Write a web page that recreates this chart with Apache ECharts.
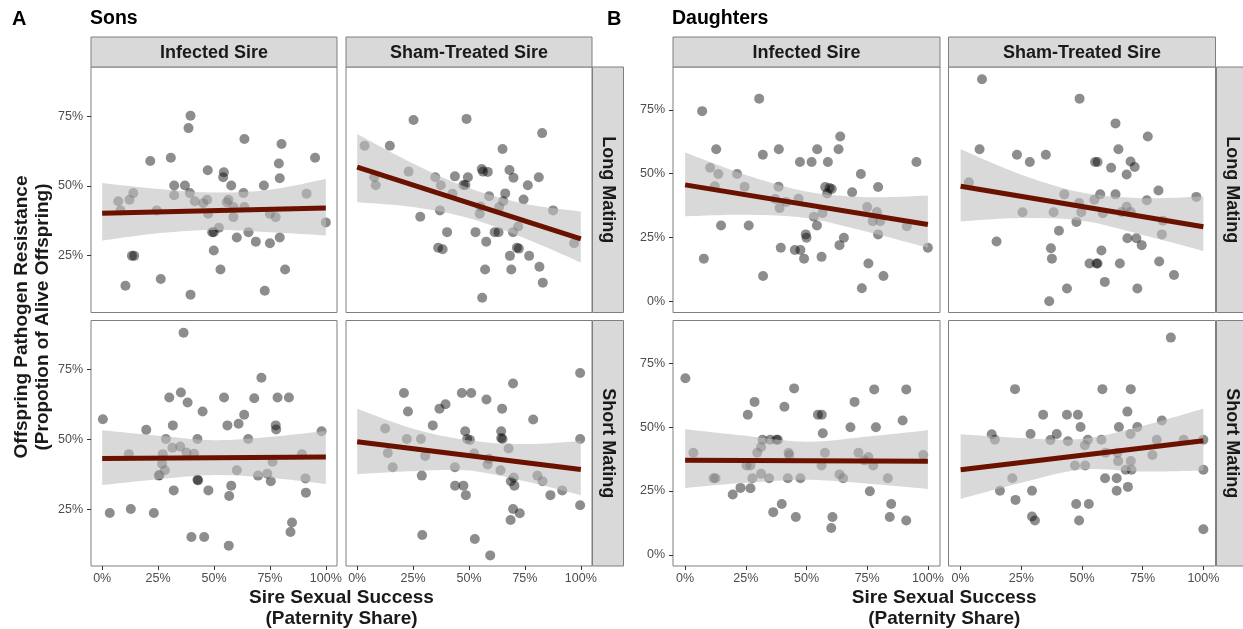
<!DOCTYPE html>
<html>
<head>
<meta charset="utf-8">
<script src="https://cdn.jsdelivr.net/npm/echarts@6/dist/echarts.min.js"></script>
<style>
html,body{margin:0;padding:0;background:#fff;}
#chart{width:1243px;height:629px;}
</style>
</head>
<body>
<div id="chart"></div>
<script>
// ---- Tick values (percent) ----
const xTicks = [0, 25, 50, 75, 100];
const sonsYTicks = [25, 50, 75];
const daughtersYTicks = [0, 25, 50, 75];

// ---- Facet labels ----
const groupTitles = ['Sons', 'Daughters'];
const groupLetters = ['A', 'B'];
const sireLabels = ['Infected Sire', 'Sham-Treated Sire'];
const matingLabels = ['Long Mating', 'Short Mating'];

// ---- Observations: [paternity share %, resistance %] ----
const sonsInfLong = [[39.5,75.1],[38.6,70.7],[63.6,66.8],[80.2,65.0],[21.5,58.9],[30.7,60.1],[95.2,60.1],[79.0,58.0],[47.2,55.6],[54.4,54.9],[54.1,53.1],[79.4,52.7],[32.2,50.1],[37.0,50.1],[57.7,50.1],[72.3,50.1],[13.9,47.4],[32.2,46.6],[39.2,47.4],[63.2,47.4],[91.4,47.2],[7.2,44.5],[12.2,45.0],[41.4,44.5],[46.9,45.0],[56.5,45.0],[45.2,43.8],[55.7,44.1],[8.2,41.2],[24.4,41.2],[58.7,42.4],[63.6,42.4],[47.4,40.0],[58.7,38.8],[75.0,40.0],[77.6,38.8],[100,36.9],[52.2,35.0],[49.2,33.4],[49.9,33.4],[65.4,33.4],[60.2,31.5],[68.7,30.0],[75.0,29.4],[79.4,31.5],[49.9,26.8],[13.3,24.9],[14.3,24.9],[52.9,20.0],[81.8,20.0],[26.2,16.6],[10.4,14.2],[39.5,11.0],[72.7,12.4]];
const sonsShamLong = [[25.2,73.6],[48.9,74.0],[82.7,68.9],[3.3,64.4],[14.6,64.4],[65.0,63.2],[23.0,55.1],[55.7,56.0],[56.3,55.1],[58.4,55.0],[68.1,55.7],[69.9,52.9],[7.6,53.1],[8.3,50.2],[34.9,53.1],[37.4,50.2],[43.7,53.4],[49.5,53.1],[47.5,50.3],[48.4,50.3],[81.2,53.1],[76.3,50.2],[42.6,47.2],[59.0,46.3],[66.2,47.3],[65.3,44.5],[74.4,45.1],[55.1,42.6],[63.5,42.4],[87.6,41.2],[37.0,41.2],[54.8,40.0],[28.2,38.9],[72.0,35.4],[40.2,33.4],[52.9,33.4],[61.5,33.4],[63.2,33.4],[69.7,33.4],[57.7,30.0],[36.2,27.8],[38.2,27.3],[71.4,27.8],[72.3,27.5],[97.0,29.4],[68.3,24.9],[76.9,24.9],[81.5,21.0],[57.2,20.0],[68.9,20.0],[83.0,15.3],[55.9,9.9]];
const sonsInfShort = [[36.4,88.2],[71.2,72.1],[35.2,66.8],[30.0,65.0],[38.2,63.2],[54.5,65.0],[68.0,64.7],[78.4,65.0],[83.5,65.0],[44.9,60.0],[63.5,58.8],[0.3,57.2],[31.6,55.0],[56.0,55.0],[61.0,55.6],[77.6,55.0],[77.8,53.5],[19.7,53.4],[98.1,52.9],[28.5,50.1],[42.6,50.1],[65.3,50.1],[31.4,47.0],[34.9,47.4],[37.7,45.3],[41.1,44.8],[11.9,44.7],[27.1,44.7],[26.8,41.2],[89.3,44.7],[76.2,42.0],[28.0,38.9],[60.2,38.9],[25.3,37.0],[25.6,37.2],[69.7,37.0],[73.8,37.7],[42.6,35.5],[42.9,35.3],[75.4,35.0],[90.9,36.0],[57.7,33.4],[56.8,29.7],[32.0,31.7],[47.5,31.7],[91.1,30.9],[3.4,23.6],[12.8,25.0],[23.1,23.6],[84.9,20.2],[84.2,16.8],[39.9,15.0],[45.6,15.0],[56.6,11.9]];
const sonsShamShort = [[99.7,73.8],[69.7,70.0],[20.9,66.6],[46.8,66.6],[51.0,66.6],[57.8,64.3],[39.5,62.6],[36.8,61.0],[64.8,61.0],[22.7,60.0],[78.7,57.1],[33.8,55.0],[12.5,53.9],[48.3,52.9],[64.4,52.9],[22.2,50.1],[28.5,50.1],[49.2,50.1],[50.4,49.8],[64.4,50.5],[65.0,50.1],[99.7,50.1],[67.7,46.7],[13.7,45.1],[30.4,44.0],[52.3,44.9],[58.9,43.0],[58.3,41.0],[15.9,40.0],[43.7,40.0],[64.1,38.9],[28.9,37.0],[70.0,36.3],[80.6,37.0],[82.9,35.0],[68.7,35.0],[70.3,33.4],[43.8,33.4],[47.5,33.4],[48.6,30.0],[86.4,30.0],[91.7,31.7],[99.7,26.4],[69.7,25.0],[72.7,23.5],[68.6,21.1],[29.1,15.7],[52.6,14.3],[59.5,8.4]];
const daughtersInfLong = [[30.5,79.4],[7.0,74.5],[63.9,64.6],[12.8,59.6],[38.6,59.6],[54.4,59.6],[63.2,59.6],[32.0,57.4],[47.3,54.6],[52.1,54.6],[58.8,54.6],[95.3,54.6],[10.3,52.3],[13.7,49.9],[21.4,49.9],[72.4,49.9],[12.2,45.1],[24.5,44.9],[38.5,44.9],[57.7,44.8],[59.5,44.4],[60.4,44.0],[58.5,42.2],[79.5,44.8],[68.8,42.7],[37.1,40.1],[41.6,38.9],[46.7,40.2],[38.9,36.5],[56.6,34.6],[53.0,33.1],[75.0,36.9],[79.0,35.0],[77.3,31.4],[80.4,31.4],[91.3,29.4],[54.3,29.7],[14.8,29.7],[26.2,29.7],[79.5,26.2],[49.7,26.2],[50.0,24.9],[65.4,24.9],[63.6,22.0],[100,21.0],[39.4,21.0],[45.2,20.1],[47.5,20.1],[7.7,16.7],[49.0,16.7],[56.2,17.4],[75.5,14.8],[32.1,9.9],[81.7,9.9],[72.8,5.1]];
const daughtersShamLong = [[8.8,87.0],[49.0,79.4],[63.8,69.7],[77.1,64.6],[7.8,59.6],[65.0,59.6],[23.2,57.4],[35.1,57.4],[28.5,54.6],[55.4,54.6],[56.4,54.6],[70.0,54.8],[71.7,52.6],[62.0,52.3],[68.4,49.7],[3.4,46.6],[81.5,43.4],[97.1,40.9],[42.7,41.9],[57.5,41.9],[63.8,41.9],[48.8,38.5],[55.1,39.8],[76.7,39.6],[68.4,37.0],[70.1,35.0],[66.3,35.0],[25.5,34.9],[38.3,34.9],[49.7,34.9],[58.6,34.5],[47.7,31.1],[83.3,31.6],[40.5,27.6],[82.9,26.2],[68.7,24.7],[72.4,24.7],[74.6,22.0],[14.8,23.4],[37.2,20.8],[58.0,19.9],[37.6,16.7],[53.1,14.8],[56.0,14.8],[56.4,14.8],[65.6,14.8],[81.8,15.6],[87.9,10.3],[59.4,7.6],[43.8,5.0],[72.8,5.0],[36.5,0.0]];
const daughtersInfShort = [[0.1,69.2],[44.9,65.2],[77.9,64.8],[91.1,64.8],[28.6,59.9],[69.8,59.9],[40.9,58.0],[25.8,54.9],[54.7,54.9],[56.3,54.9],[89.6,52.6],[68.1,50.0],[78.6,50.0],[56.7,47.6],[31.9,45.1],[35.0,45.1],[37.6,45.1],[38.2,45.1],[31.3,42.2],[29.7,40.0],[3.4,40.0],[42.6,40.0],[57.6,40.0],[71.4,40.0],[98.1,39.1],[42.9,39.1],[75.5,38.3],[73.9,37.0],[25.3,35.0],[26.9,35.0],[56.2,35.0],[77.5,35.0],[31.3,31.7],[63.6,31.5],[11.7,30.0],[12.5,30.0],[27.7,30.0],[34.6,30.0],[42.3,30.0],[47.5,30.0],[65.1,30.0],[83.5,30.0],[22.8,26.2],[26.9,26.1],[19.6,23.6],[76.1,24.9],[39.8,19.9],[84.9,19.9],[36.3,16.7],[45.6,14.8],[60.7,14.8],[84.3,14.8],[91.1,13.4],[60.2,10.5]];
const daughtersShamShort = [[86.6,85.1],[22.4,64.9],[58.4,64.9],[70.1,64.9],[68.7,56.1],[34.0,54.9],[43.8,54.9],[48.3,54.9],[82.9,52.6],[49.4,50.1],[65.2,50.1],[72.8,50.1],[12.8,47.2],[28.8,47.3],[39.6,47.3],[70.0,47.3],[14.1,45.1],[37.0,45.0],[44.2,44.5],[52.4,45.1],[58.0,45.1],[80.8,45.1],[91.9,45.1],[100,45.1],[51.2,42.9],[59.7,40.0],[64.6,40.0],[79.0,39.1],[64.9,36.7],[70.1,36.7],[47.1,35.0],[51.3,35.0],[68.0,33.3],[70.4,33.3],[100,33.3],[21.3,30.0],[59.5,30.0],[64.3,30.0],[68.9,26.6],[16.2,25.1],[29.4,25.1],[64.3,25.1],[22.6,21.5],[47.6,19.9],[52.8,19.9],[29.4,15.0],[30.6,13.4],[48.8,13.4],[100,10.0]];

// ---- Linear fits (value at 0% and 100%) and 95% bands ----
const fitX = [0, 100];
const bandX = [0, 25, 50, 75, 100];
const sonsInfLongFit = [40.2, 42.1];
const sonsInfLongLo = [30.4, 33.0, 34.2, 33.4, 32.2];
const sonsInfLongHi = [51.0, 48.9, 47.6, 48.6, 52.5];
const sonsShamLongFit = [56.7, 31.0];
const sonsShamLongLo = [44.1, 42.4, 38.4, 31.2, 22.5];
const sonsShamLongHi = [68.6, 58.0, 49.2, 43.6, 40.8];
const sonsInfShortFit = [43.1, 43.7];
const sonsInfShortLo = [33.6, 35.7, 37.2, 36.2, 34.0];
const sonsInfShortHi = [53.3, 51.3, 49.7, 50.9, 53.0];
const sonsShamShortFit = [49.1, 39.2];
const sonsShamShortLo = [37.5, 38.6, 38.8, 35.0, 30.0];
const sonsShamShortHi = [61.0, 53.8, 49.6, 48.3, 49.4];
const daughtersInfLongFit = [45.6, 30.1];
const daughtersInfLongLo = [33.3, 33.9, 32.6, 27.2, 21.0];
const daughtersInfLongHi = [58.3, 49.5, 43.0, 40.8, 41.4];
const daughtersShamLongFit = [45.1, 29.2];
const daughtersShamLongLo = [31.3, 32.6, 31.6, 26.0, 19.7];
const daughtersShamLongHi = [59.6, 49.6, 42.6, 40.4, 41.1];
const daughtersInfShortFit = [37.0, 36.6];
const daughtersInfShortLo = [26.2, 28.2, 29.4, 27.9, 25.8];
const daughtersInfShortHi = [49.2, 46.6, 44.3, 46.3, 48.8];
const daughtersShamShortFit = [33.3, 44.7];
const daughtersShamShortLo = [21.9, 28.2, 33.4, 32.6, 33.0];
const daughtersShamShortHi = [47.2, 45.8, 45.4, 50.5, 57.3];

// ---- Panel layout ----
const FONT = '"Liberation Sans", Arial, Helvetica, sans-serif';
const groupLayout = [
  { lefts: [91, 346], width: 246, yMin: 4.6, yMax: 92.6, yTicks: sonsYTicks, stripX: 592.5 },
  { lefts: [673, 948.5], width: 267, yMin: -4.4, yMax: 91.8, yTicks: daughtersYTicks, stripX: 1216.5 }
];
const rowTops = [67, 320.5];
const rowHeight = 245.5;
const stripTop = 37, stripH = 30, stripW = 31;

const panels = [
  { g: 0, col: 0, row: 0, pts: sonsInfLong, fit: sonsInfLongFit, lo: sonsInfLongLo, hi: sonsInfLongHi },
  { g: 0, col: 1, row: 0, pts: sonsShamLong, fit: sonsShamLongFit, lo: sonsShamLongLo, hi: sonsShamLongHi },
  { g: 0, col: 0, row: 1, pts: sonsInfShort, fit: sonsInfShortFit, lo: sonsInfShortLo, hi: sonsInfShortHi },
  { g: 0, col: 1, row: 1, pts: sonsShamShort, fit: sonsShamShortFit, lo: sonsShamShortLo, hi: sonsShamShortHi },
  { g: 1, col: 0, row: 0, pts: daughtersInfLong, fit: daughtersInfLongFit, lo: daughtersInfLongLo, hi: daughtersInfLongHi },
  { g: 1, col: 1, row: 0, pts: daughtersShamLong, fit: daughtersShamLongFit, lo: daughtersShamLongLo, hi: daughtersShamLongHi },
  { g: 1, col: 0, row: 1, pts: daughtersInfShort, fit: daughtersInfShortFit, lo: daughtersInfShortLo, hi: daughtersInfShortHi },
  { g: 1, col: 1, row: 1, pts: daughtersShamShort, fit: daughtersShamShortFit, lo: daughtersShamShortLo, hi: daughtersShamShortHi }
];

// Catmull-Rom spline through pixel points, returned as a dense polyline
function spline(pts, steps) {
  const out = [];
  const n = pts.length;
  for (let i = 0; i < n - 1; i++) {
    const p0 = pts[Math.max(i - 1, 0)], p1 = pts[i], p2 = pts[i + 1], p3 = pts[Math.min(i + 2, n - 1)];
    for (let s = 0; s < steps; s++) {
      const t = s / steps, t2 = t * t, t3 = t2 * t;
      const f = (a, b, c, d) => 0.5 * (2 * b + (-a + c) * t + (2 * a - 5 * b + 4 * c - d) * t2 + (-a + 3 * b - 3 * c + d) * t3);
      out.push([f(p0[0], p1[0], p2[0], p3[0]), f(p0[1], p1[1], p2[1], p3[1])]);
    }
  }
  out.push(pts[n - 1]);
  return out;
}

const grids = [], xAxes = [], yAxes = [], series = [];
const tickStyle = { color: '#333333', width: 1 };
const labelStyle = { color: '#4d4d4d', fontSize: 12.5, fontFamily: FONT };

panels.forEach((p, i) => {
  const L = groupLayout[p.g];
  grids.push({
    left: L.lefts[p.col], top: rowTops[p.row], width: L.width, height: rowHeight,
    show: true, borderColor: '#7f7f7f', borderWidth: 1, backgroundColor: '#ffffff'
  });
  const bottom = p.row === 1, leftCol = p.col === 0;
  xAxes.push({
    type: 'value', gridIndex: i, min: -5, max: 105, position: 'bottom',
    axisLine: { show: false, onZero: false }, splitLine: { show: false },
    axisTick: { show: bottom, customValues: xTicks, length: 4, lineStyle: tickStyle },
    axisLabel: Object.assign({ show: bottom, customValues: xTicks, formatter: '{value}%', margin: 6 }, labelStyle)
  });
  yAxes.push({
    type: 'value', gridIndex: i, min: L.yMin, max: L.yMax, position: 'left',
    axisLine: { show: false, onZero: false }, splitLine: { show: false },
    axisTick: { show: leftCol, customValues: L.yTicks, length: 4, lineStyle: tickStyle },
    axisLabel: Object.assign({ show: leftCol, customValues: L.yTicks, formatter: '{value}%', margin: 8 }, labelStyle)
  });
  // observations
  series.push({
    type: 'scatter', xAxisIndex: i, yAxisIndex: i, data: p.pts,
    symbol: 'circle', symbolSize: 10, z: 2, silent: true,
    itemStyle: { color: 'rgba(0,0,0,0.56)', borderWidth: 0 }
  });
  // confidence band between lower and upper limits
  const nBand = bandX.length;
  series.push({
    type: 'custom', xAxisIndex: i, yAxisIndex: i, z: 3, silent: true, clip: true,
    data: bandX.map((x, k) => [x, p.lo[k], p.hi[k]]),
    renderItem: function (params, api) {
      if (params.dataIndex !== 0) return null;
      const upper = [], lower = [];
      for (let k = 0; k < nBand; k++) {
        upper.push(api.coord([api.value(0, k), api.value(2, k)]));
        lower.push(api.coord([api.value(0, k), api.value(1, k)]));
      }
      const pts = spline(upper, 12).concat(spline(lower, 12).reverse());
      return { type: 'polygon', shape: { points: pts }, style: { fill: 'rgba(192,192,192,0.6)' } };
    }
  });
  // fitted line
  series.push({
    type: 'line', xAxisIndex: i, yAxisIndex: i, symbol: 'none', silent: true, z: 4,
    lineStyle: { color: '#6b1100', width: 5, cap: 'butt' },
    data: fitX.map((x, k) => [x, p.fit[k]])
  });
});

// ---- Strips, titles and axis titles ----
const graphics = [];
const boldFont = (s) => 'bold ' + s + 'px ' + FONT;
function addText(x, y, text, size, rotation) {
  graphics.push({
    type: 'text', x: x, y: y, rotation: rotation || 0, silent: true, z: 10,
    style: { text: text, font: boldFont(size), fill: '#1a1a1a', textAlign: 'center', textVerticalAlign: 'middle', align: 'center', verticalAlign: 'middle' }
  });
}
groupLayout.forEach((L, g) => {
  // column strips
  L.lefts.forEach((lx, c) => {
    graphics.push({ type: 'rect', silent: true, z: 9, shape: { x: lx, y: stripTop, width: L.width, height: stripH },
      style: { fill: '#d9d9d9', stroke: '#7f7f7f', lineWidth: 1 } });
    addText(lx + L.width / 2, stripTop + stripH / 2 + 1, sireLabels[c], 18);
  });
  // row strips
  rowTops.forEach((ty, r) => {
    graphics.push({ type: 'rect', silent: true, z: 9, shape: { x: L.stripX, y: ty, width: stripW, height: rowHeight },
      style: { fill: '#d9d9d9', stroke: '#7f7f7f', lineWidth: 1 } });
    addText(L.stripX + stripW / 2, ty + rowHeight / 2, matingLabels[r], 18, -Math.PI / 2);
  });
  // x axis title
  const cx = (L.lefts[0] + L.lefts[1] + L.width) / 2;
  addText(cx, 598, 'Sire Sexual Success', 19);
  addText(cx, 619, '(Paternity Share)', 19);
});
// group titles
graphics.push({ type: 'text', x: 12, y: 19, silent: true, style: { text: groupLetters[0], font: boldFont(20), fill: '#000', textVerticalAlign: 'middle', verticalAlign: 'middle' } });
graphics.push({ type: 'text', x: 90, y: 19, silent: true, style: { text: groupTitles[0], font: boldFont(19.5), fill: '#000', textVerticalAlign: 'middle', verticalAlign: 'middle' } });
graphics.push({ type: 'text', x: 607, y: 19, silent: true, style: { text: groupLetters[1], font: boldFont(20), fill: '#000', textVerticalAlign: 'middle', verticalAlign: 'middle' } });
graphics.push({ type: 'text', x: 672, y: 19, silent: true, style: { text: groupTitles[1], font: boldFont(19.5), fill: '#000', textVerticalAlign: 'middle', verticalAlign: 'middle' } });
// y axis title
addText(22, 317, 'Offspring Pathogen Resistance', 19, Math.PI / 2);
addText(43, 317, '(Propotion of Alive Offspring)', 19, Math.PI / 2);

const chart = echarts.init(document.getElementById('chart'), null, { renderer: 'canvas' });
chart.setOption({
  backgroundColor: '#ffffff',
  animation: false,
  grid: grids,
  xAxis: xAxes,
  yAxis: yAxes,
  series: series,
  graphic: graphics
});
</script>
</body>
</html>
